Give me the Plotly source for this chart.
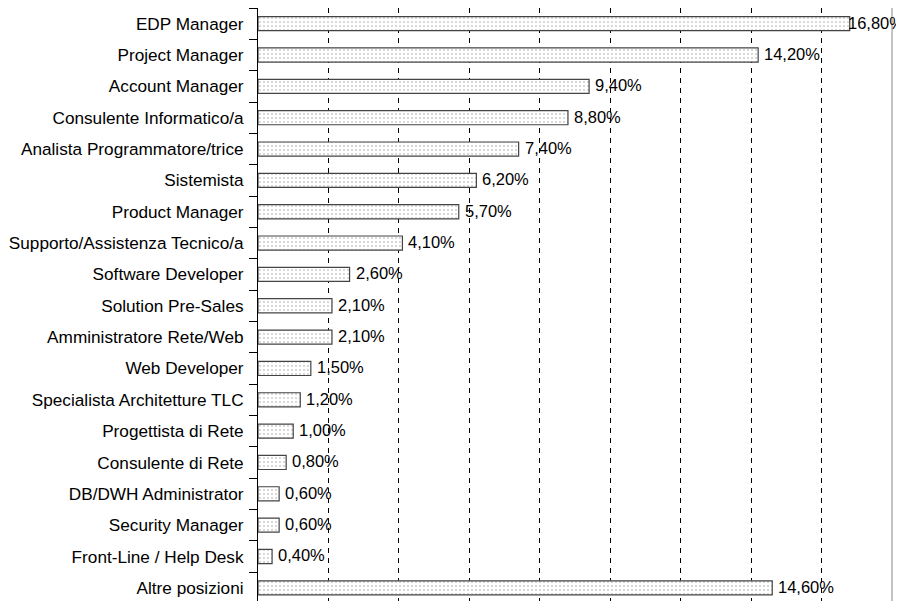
import plotly.graph_objects as go

categories = [
    "EDP Manager", "Project Manager", "Account Manager", "Consulente Informatico/a",
    "Analista Programmatore/trice", "Sistemista", "Product Manager",
    "Supporto/Assistenza Tecnico/a", "Software Developer", "Solution Pre-Sales",
    "Amministratore Rete/Web", "Web Developer", "Specialista Architetture TLC",
    "Progettista di Rete", "Consulente di Rete", "DB/DWH Administrator",
    "Security Manager", "Front-Line / Help Desk", "Altre posizioni",
]
values = [16.8, 14.2, 9.4, 8.8, 7.4, 6.2, 5.7, 4.1, 2.6, 2.1, 2.1, 1.5, 1.2, 1.0, 0.8, 0.6, 0.6, 0.4, 14.6]
labels = [f"{v:.2f}%".replace(".", ",") for v in values]
grid_ticks = [2, 4, 6, 8, 10, 12, 14, 16]
X_MAX = 18

FONT = "Liberation Sans, Arial, sans-serif"

fig = go.Figure(go.Bar(
    x=values, y=categories, orientation="h",
    width=0.45,
    marker=dict(
        color="white",
        line=dict(color="#444", width=1.2),
        pattern=dict(shape=".", fgcolor="#9a9a9a", bgcolor="white", size=4, solidity=0.2),
    ),
    hoverinfo="x+y",
))

# value labels placed just right of each bar end (pulled back when near the plot edge)
annotations = []
for cat, v, lab in zip(categories, values, labels):
    near_edge = v > X_MAX - 1.5
    annotations.append(dict(
        x=v, y=cat, xref="x", yref="y", text=lab, showarrow=False,
        xanchor="left", xshift=-4 if near_edge else 4, yshift=1,
        font=dict(family=FONT, size=16.5, color="black"),
    ))

# page body has an 8px margin: figure sits at (8, 8) in the window
fig.update_layout(
    width=896, height=593,
    margin=dict(l=250, r=12, t=0, b=0, autoexpand=False),
    paper_bgcolor="white", plot_bgcolor="white",
    showlegend=False,
    font=dict(family=FONT, size=17, color="black"),
    annotations=annotations,
    xaxis=dict(
        range=[0, X_MAX], side="top",
        tickvals=grid_ticks, showticklabels=False, ticks="",
        showgrid=True, gridcolor="black", gridwidth=1, griddash="5px,5px",
        showline=True, linecolor="#888", linewidth=1,
        zeroline=False, fixedrange=True,
    ),
    yaxis=dict(
        type="category", categoryorder="array", categoryarray=categories,
        range=[18.42, -0.5],
        ticks="outside", ticklen=8, tickcolor="black", tickson="boundaries",
        showline=True, linecolor="black", linewidth=1,
        showgrid=False, ticklabelstandoff=10,
        tickfont=dict(family=FONT, size=17.2, color="black"),
    ),
    shapes=[dict(type="line", xref="paper", yref="paper", x0=1, x1=1, y0=0, y1=1,
                 line=dict(color="#888", width=1))],
)

fig.write_html("out.html")
